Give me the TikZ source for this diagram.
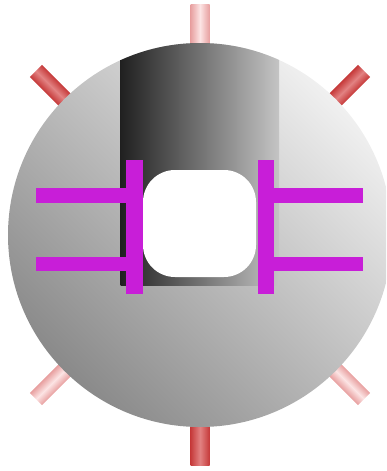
\documentclass[tikz,border=0pt]{standalone}
\definecolor{magbar}{RGB}{200,30,216}
\definecolor{redrod}{RGB}{198,58,58}
\definecolor{redmid}{RGB}{226,130,130}
\definecolor{pinkrod}{RGB}{232,160,160}
\definecolor{pinkmid}{RGB}{252,228,228}
\definecolor{diskdark}{RGB}{138,138,138}
\definecolor{diskpale}{RGB}{240,240,240}
\definecolor{winleft}{RGB}{32,32,32}
\definecolor{winright}{RGB}{196,196,196}
\tikzset{
  redshade/.style={left color=redrod,right color=redrod,middle color=redmid},
  pinkshade/.style={left color=pinkrod,right color=pinkrod,middle color=pinkmid},
  bar/.style={fill=magbar},
}
\begin{document}
\begin{tikzpicture}[x=1pt,y=-1pt]
\useasboundingbox (0,0) rectangle (386,471);
\clip (0,0) rectangle (386,471);
% rods
\shade[pinkshade] (190.5,4) rectangle (209.5,50);
\shade[redshade] (190.5,420) rectangle (209.5,465);
\shade[redshade,transform canvas={shift={(200pt,-235pt)},rotate=45}] (-8.5,-232) rectangle (8.5,-180);
\shade[redshade,transform canvas={shift={(200pt,-235pt)},rotate=-45}] (-8.5,-232) rectangle (8.5,-180);
\shade[pinkshade,transform canvas={shift={(200pt,-235pt)},rotate=135}] (-8.5,-232) rectangle (8.5,-180);
\shade[pinkshade,transform canvas={shift={(200pt,-235pt)},rotate=-135}] (-8.5,-232) rectangle (8.5,-180);
% disk
\shade[bottom color=diskdark,top color=diskpale,shading angle=-45] (200,235) circle[radius=192];
% dark window
\begin{scope}
\clip (200,235) circle[radius=192];
\shade[left color=winleft,right color=winright] (120.5,30) rectangle (279,285);
\end{scope}
% opening
\fill[white,rounded corners=32] (143,170) rectangle (256,277);
% bars
\fill[bar] (126,160) rectangle (142.5,294);
\fill[bar] (257.5,160) rectangle (273.5,294);
\fill[bar] (36,188) rectangle (126,202.5);
\fill[bar] (36,257) rectangle (126,271);
\fill[bar] (273.5,188) rectangle (363,202.5);
\fill[bar] (273.5,257) rectangle (363,271);
\end{tikzpicture}
\end{document}
